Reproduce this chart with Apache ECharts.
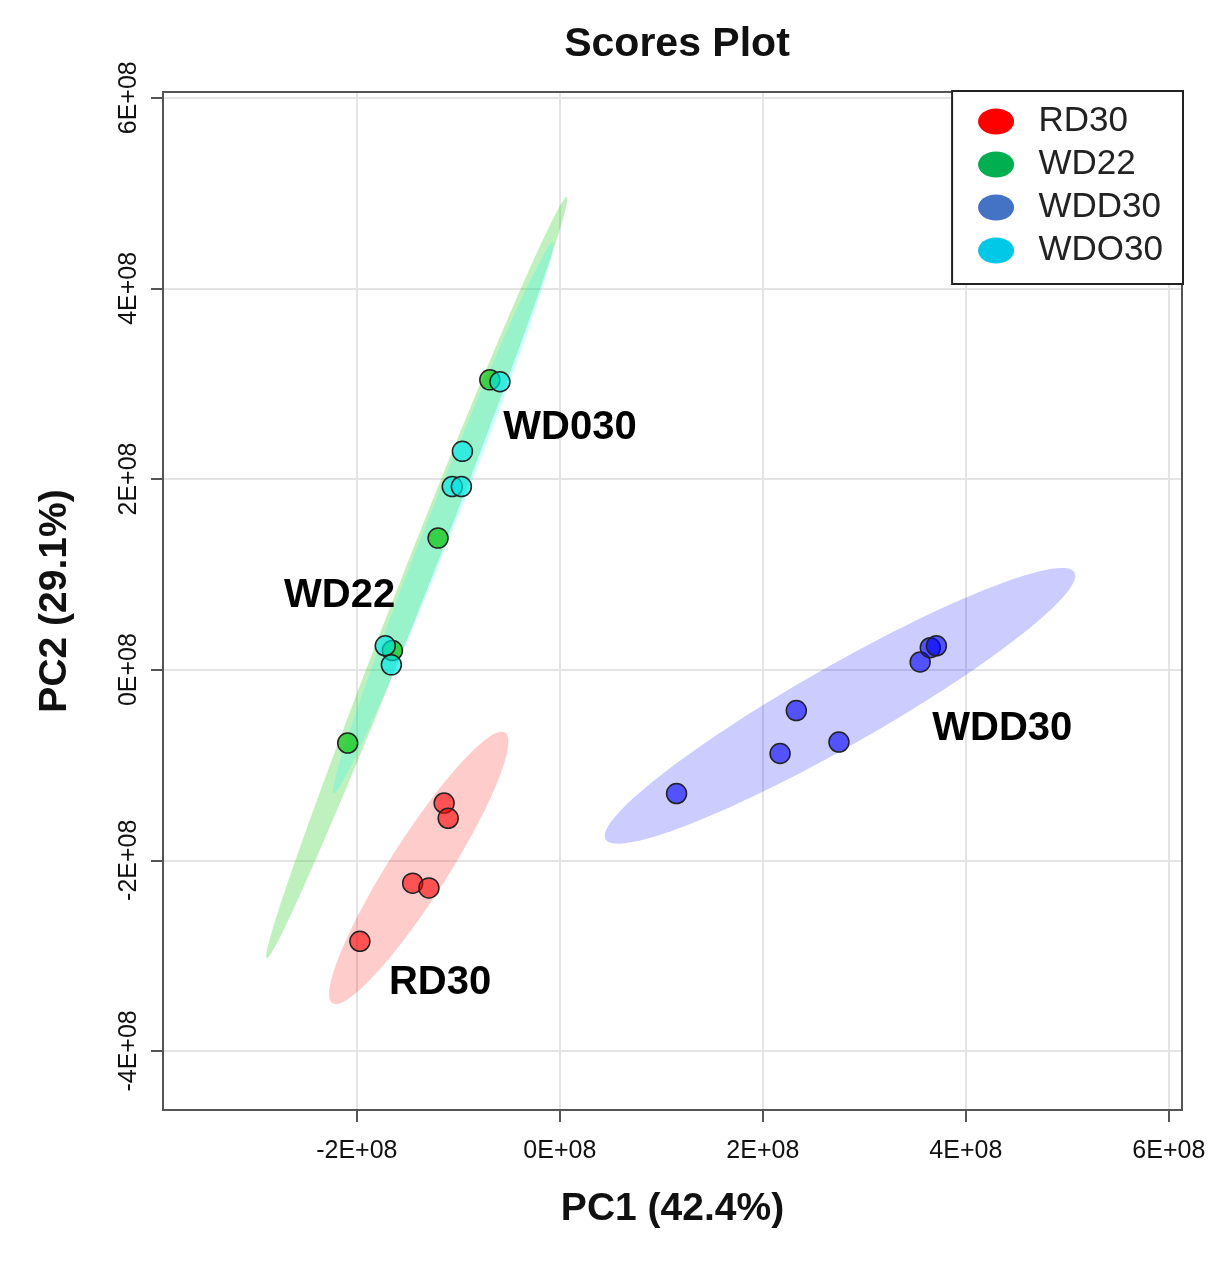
<!DOCTYPE html>
<html>
<head>
<meta charset="utf-8">
<script src="https://cdn.jsdelivr.net/npm/echarts@6/dist/echarts.min.js"></script>
<style>
  html, body { margin: 0; padding: 0; background: #fff; }
  #chart { width: 1223px; height: 1266px; }
</style>
</head>
<body>
<div id="chart"></div>
<script>
// groups (legend order)
const groups = ['RD30', 'WD22', 'WDD30', 'WDO30'];

// score points [PC1, PC2] per group
const rd30Pts = [[-1.14e8, -1.40e8], [-1.10e8, -1.56e8], [-1.45e8, -2.24e8], [-1.29e8, -2.29e8], [-1.97e8, -2.85e8]];
const wd22Pts = [[-0.69e8, 3.04e8], [-1.20e8, 1.38e8], [-1.65e8, 0.20e8], [-2.09e8, -0.77e8]];
const wdd30Pts = [[1.15e8, -1.30e8], [2.17e8, -0.88e8], [2.33e8, -0.43e8], [2.75e8, -0.76e8],
                  [3.55e8, 0.08e8], [3.65e8, 0.23e8], [3.71e8, 0.25e8]];
const wdo30Pts = [[-0.59e8, 3.02e8], [-0.96e8, 2.29e8], [-1.06e8, 1.92e8], [-0.97e8, 1.92e8],
                  [-1.72e8, 0.25e8], [-1.66e8, 0.05e8]];

// confidence ellipses: centre, tip of the long axis, short/long axis ratio
const ellipseCenter = [[-1.39e8, -2.08e8], [-1.41e8, 0.966e8], [2.76e8, -0.38e8], [-1.15e8, 1.59e8]];
const ellipseTip    = [[-0.54e8, -0.66e8], [0.069e8, 4.96e8], [5.07e8, 1.02e8], [-0.07e8, 4.48e8]];
const ellipseRatio  = [0.18, 0.034, 0.148, 0.045];

// group name tags inside the plot
const tagNames = ['RD30', 'WD22', 'WDD30', 'WD030'];
const tagPos   = [[-1.18e8, -3.29e8], [-2.17e8, 0.77e8], [4.36e8, -0.62e8], [0.10e8, 2.54e8]];

const axisRangeX = [-3.91e8, 6.13e8];
const axisRangeY = [-4.62e8, 6.06e8];

const pointFill   = ['rgba(255,0,0,0.6)', 'rgba(0,190,0,0.65)', 'rgba(0,0,255,0.6)', 'rgba(0,230,230,0.65)'];
const ellipseFill = ['rgba(255,0,0,0.2)', 'rgba(0,200,0,0.25)', 'rgba(0,0,255,0.2)', 'rgba(0,255,255,0.2)'];
const legendColor = ['#ff0000', '#00b050', '#4472c4', '#00c8e6'];

const allPts = [rd30Pts, wd22Pts, wdd30Pts, wdo30Pts];
const FONT = '"Liberation Sans", Arial, sans-serif';

const chart = echarts.init(document.getElementById('chart'));

function tickLabel(v) {
  const k = Math.round(v / 1e8);
  if (Math.abs(v - k * 1e8) > 1) return '';
  return k + 'E+08';
}

function drawEllipse(params, api) {
  const c = api.coord([api.value(0), api.value(1)]);
  const e = api.coord([api.value(2), api.value(3)]);
  const r = api.value(4);
  const ux = e[0] - c[0], uy = e[1] - c[1];
  const vx = -uy * r, vy = ux * r;
  const pts = [];
  for (let i = 0; i < 120; i++) {
    const t = i / 120 * Math.PI * 2;
    pts.push([c[0] + Math.cos(t) * ux + Math.sin(t) * vx,
              c[1] + Math.cos(t) * uy + Math.sin(t) * vy]);
  }
  return {
    type: 'polygon',
    shape: { points: pts },
    style: { fill: ellipseFill[params.seriesIndex], stroke: null }
  };
}

const ellipseSeries = groups.map((g, i) => ({
  name: g,
  type: 'custom',
  renderItem: drawEllipse,
  dimensions: ['cx', 'cy', 'ex', 'ey', 'r'],
  encode: { x: [0, 2], y: [1, 3] },
  data: [[ellipseCenter[i][0], ellipseCenter[i][1], ellipseTip[i][0], ellipseTip[i][1], ellipseRatio[i]]],
  silent: true,
  z: 1
}));

const pointSeries = groups.map((g, i) => ({
  name: g,
  type: 'scatter',
  data: allPts[i],
  symbol: 'circle',
  symbolSize: 20,
  itemStyle: { color: pointFill[i], borderColor: '#222', borderWidth: 1.5, opacity: 1 },
  z: 3
}));

const tagSeries = {
  name: 'tags',
  type: 'scatter',
  data: tagPos.map((p, i) => ({ value: p, name: tagNames[i] })),
  symbolSize: 0,
  silent: true,
  itemStyle: { opacity: 1 },
  label: {
    show: true,
    position: 'inside',
    formatter: p => p.name,
    fontFamily: FONT,
    fontSize: 40,
    fontWeight: 'bold',
    color: '#000',
    textBorderWidth: 0
  },
  z: 4
};

// plain frame lines for the top and right side of the box
const frameAxis = {
  type: 'value',
  axisLine: { show: true, onZero: false, lineStyle: { color: '#555', width: 2 } },
  axisTick: { show: false },
  axisLabel: { show: false },
  splitLine: { show: false }
};

const option = {
  backgroundColor: '#fff',
  animation: false,
  textStyle: { fontFamily: FONT },
  title: {
    text: 'Scores Plot',
    left: 672,
    textAlign: 'center',
    top: 19,
    textStyle: { fontFamily: FONT, fontSize: 41, fontWeight: 'bold', color: '#111' }
  },
  legend: {
    orient: 'vertical',
    right: 40,
    top: 91,
    padding: [13, 20, 16, 26],
    itemGap: 8,
    itemWidth: 36,
    itemHeight: 26,
    backgroundColor: '#fff',
    borderColor: '#222',
    borderWidth: 2,
    borderRadius: 0,
    selectedMode: false,
    formatter: name => '  ' + name,
    textStyle: { fontFamily: FONT, fontSize: 35, color: '#222' },
    data: groups.map((g, i) => ({
      name: g,
      icon: 'path://M0,13 A18,13 0 1,1 36,13 A18,13 0 1,1 0,13 Z',
      itemStyle: { color: legendColor[i], borderWidth: 0, opacity: 1 }
    }))
  },
  grid: {
    left: 163,
    right: 41,
    top: 92,
    bottom: 156,
    show: true,
    borderColor: '#555',
    borderWidth: 2,
    backgroundColor: 'transparent',
    outerBoundsMode: 'none'
  },
  xAxis: [{
    type: 'value',
    min: axisRangeX[0],
    max: axisRangeX[1],
    splitNumber: 5,
    name: 'PC1 (42.4%)',
    nameLocation: 'middle',
    nameGap: 80,
    nameTextStyle: { fontFamily: FONT, fontSize: 39, fontWeight: 'bold', color: '#111' },
    axisLine: { show: true, onZero: false, lineStyle: { color: '#555', width: 2 } },
    axisTick: { show: true, length: 12, lineStyle: { color: '#555', width: 2 } },
    axisLabel: {
      formatter: tickLabel, showMinLabel: false, showMaxLabel: false,
      margin: 29, fontFamily: FONT, fontSize: 25, color: '#111'
    },
    splitLine: { show: true, lineStyle: { color: '#e4e4e4', width: 2 } }
  }, Object.assign({ position: 'top', min: axisRangeX[0], max: axisRangeX[1] }, frameAxis)],
  yAxis: [{
    type: 'value',
    min: axisRangeY[0],
    max: axisRangeY[1],
    splitNumber: 5,
    name: 'PC2 (29.1%)',
    nameLocation: 'middle',
    nameGap: 88,
    nameTextStyle: { fontFamily: FONT, fontSize: 39, fontWeight: 'bold', color: '#111' },
    axisLine: { show: true, onZero: false, lineStyle: { color: '#555', width: 2 } },
    axisTick: { show: true, length: 12, lineStyle: { color: '#555', width: 2 } },
    axisLabel: {
      formatter: tickLabel, showMinLabel: false, showMaxLabel: false,
      rotate: 90, margin: 21, fontFamily: FONT, fontSize: 25, color: '#111'
    },
    splitLine: { show: true, lineStyle: { color: '#e4e4e4', width: 2 } }
  }, Object.assign({ position: 'right', min: axisRangeY[0], max: axisRangeY[1] }, frameAxis)],
  series: [...ellipseSeries, ...pointSeries, tagSeries]
};

chart.setOption(option);
</script>
</body>
</html>
